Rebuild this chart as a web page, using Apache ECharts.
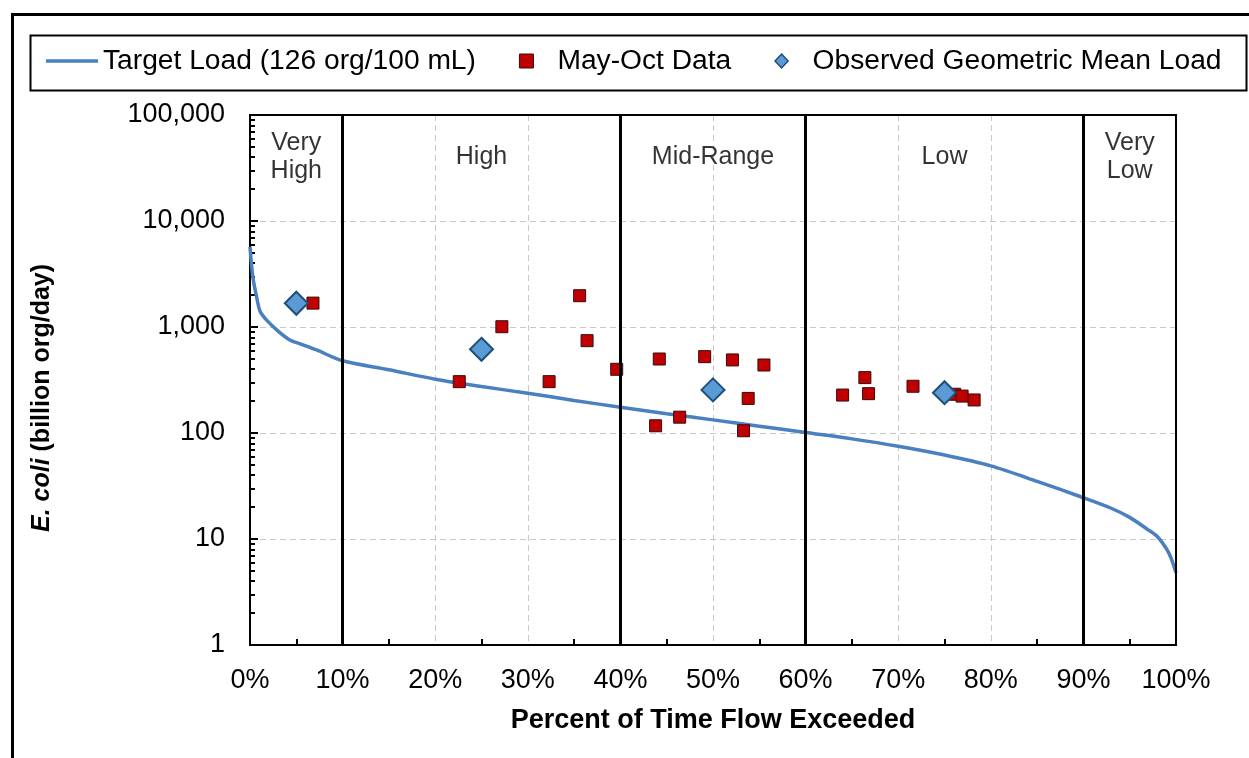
<!DOCTYPE html>
<html>
<head>
<meta charset="utf-8">
<script src="https://cdn.jsdelivr.net/npm/echarts@6/dist/echarts.min.js"></script>
<style>
html,body{margin:0;padding:0;background:#fff;}
#chart{width:1249px;height:758px;}
</style>
</head>
<body>
<div id="chart"></div>
<script>
// ---- data ----
const targetPct = [0, 0.3, 0.7, 1.1, 1.8, 3, 4.3, 5.5, 7.2, 10, 15, 20, 25, 30, 35, 40, 45, 50, 55, 60, 65, 70, 75, 80, 85, 90, 93, 95, 97, 98, 99, 99.5, 100];
const targetLoad = [5700, 3000, 1950, 1400, 1160, 920, 755, 690, 607, 480, 395, 322, 275, 237, 203, 175, 152, 133, 116, 101, 88, 75, 62, 49, 35, 24.5, 19.5, 16, 12.2, 10.5, 8, 6.5, 4.8];

const dataPct = [6.8, 22.6, 27.2, 32.3, 35.6, 36.4, 39.6, 43.8, 44.2, 46.4, 49.1, 52.1, 53.3, 53.8, 55.5, 64.0, 66.4, 66.8, 71.6, 76.1, 76.9, 78.2];
const dataLoad = [1680, 305, 1006, 305, 1973, 743, 399, 117, 499, 141, 525, 489, 105, 212, 438, 228, 333, 235, 276, 232, 223, 205];

const meanPct = [5, 25, 50, 75];
const meanLoad = [1675, 616, 255, 240];

const zoneNames = ['Very\nHigh', 'High', 'Mid-Range', 'Low', 'Very\nLow'];
const zoneCenters = [5, 25, 50, 75, 95];
const zoneBounds = [10, 40, 60, 90];

const seriesNames = ['Target Load (126 org/100 mL)', 'May-Oct Data', 'Observed Geometric Mean Load'];

// ---- chart ----
const FONT = '"Liberation Sans", Arial, sans-serif';
const X_MAX = 100, Y_MIN = 1, Y_MAX = 100000;
const chart = echarts.init(document.getElementById('chart'), null, {renderer: 'canvas'});

const zipPts = (xs, ys) => xs.map((x, i) => [x, ys[i]]);

const option = {
  animation: false,
  backgroundColor: '#fff',
  textStyle: {fontFamily: FONT, color: '#000'},
  graphic: [
    {type: 'rect', left: 10, top: 12, shape: {width: 1300, height: 800}, style: {fill: 'none', stroke: '#000', lineWidth: 3}, silent: true, z: -1},
    {type: 'rect', left: 28, top: 33, shape: {width: 1216, height: 55}, style: {fill: 'none', stroke: '#000', lineWidth: 2}, silent: true}
  ],
  legend: {
    left: 46,
    top: 47,
    itemWidth: 52,
    itemHeight: 14,
    itemGap: 43,
    padding: 0,
    symbolKeepAspect: true,
    textStyle: {fontFamily: FONT, fontSize: 28.2, color: '#000'},
    data: [
      {name: seriesNames[0], icon: 'path://M0,0H52V3.5H0Z', itemStyle: {color: '#4a7fc0'}},
      {name: seriesNames[1], icon: 'path://M0,0H10V10H0Z', itemStyle: {color: '#c00000', borderColor: '#3a0a0a', borderWidth: 1}},
      {name: seriesNames[2], icon: 'path://M7,0L14,7.5L7,15L0,7.5Z', itemStyle: {color: '#5b9bd5', borderColor: '#1f4e79', borderWidth: 1.5}}
    ]
  },
  grid: {left: 250, right: 73, top: 115, bottom: 113, show: true, borderColor: '#000', borderWidth: 2, backgroundColor: 'transparent'},
  xAxis: {
    type: 'value', min: 0, max: X_MAX, interval: 10,
    name: 'Percent of Time Flow Exceeded',
    nameLocation: 'middle', nameGap: 62,
    nameTextStyle: {fontFamily: FONT, fontSize: 27, fontWeight: 'bold', color: '#000'},
    axisLine: {show: true, lineStyle: {color: '#000', width: 2}},
    axisTick: {show: false, inside: true},
    minorTick: {show: true, splitNumber: 2, length: 6, lineStyle: {color: '#000', width: 2}},
    axisLabel: {fontFamily: FONT, fontSize: 27, color: '#000', margin: 22, formatter: v => v + '%'},
    splitLine: {show: true, lineStyle: {color: '#c8c8c8', width: 1, type: [6, 4]}}
  },
  yAxis: {
    type: 'log', logBase: 10, min: Y_MIN, max: Y_MAX,
    name: '{i|E. coli} (billion org/day)',
    nameLocation: 'middle', nameGap: 195,
    nameTextStyle: {fontFamily: FONT, fontSize: 25, fontWeight: 'bold', color: '#000', padding: [0, 36, 0, 0],
      rich: {i: {fontFamily: FONT, fontSize: 25, fontWeight: 'bold', fontStyle: 'italic', color: '#000'}}},
    axisLine: {show: true, lineStyle: {color: '#000', width: 2}},
    axisTick: {show: true, inside: true, length: 8, lineStyle: {color: '#000', width: 2}},
    minorTick: {show: true, splitNumber: 9, length: 5, lineStyle: {color: '#000', width: 2}},
    axisLabel: {fontFamily: FONT, fontSize: 27, color: '#000', margin: 25, formatter: v => Number(v).toLocaleString('en-US')},
    splitLine: {show: true, lineStyle: {color: '#c8c8c8', width: 1, type: [6, 4]}}
  },
  series: [
    {
      name: seriesNames[0], type: 'line', data: zipPts(targetPct, targetLoad),
      symbol: 'none', smooth: 0.3, lineStyle: {color: '#4a7fc0', width: 3.5}, itemStyle: {color: '#4a7fc0'}, z: 3,
      markLine: {
        silent: true, symbol: 'none', label: {show: false},
        lineStyle: {color: '#000', width: 3, type: 'solid'},
        data: zoneBounds.map(b => ({xAxis: b})).concat([
          {xAxis: X_MAX, lineStyle: {color: '#000', width: 2, type: 'solid'}},
          {yAxis: Y_MAX, lineStyle: {color: '#000', width: 2, type: 'solid'}}
        ])
      }
    },
    {
      name: seriesNames[1], type: 'scatter', data: zipPts(dataPct, dataLoad),
      symbol: 'rect', symbolSize: 12,
      itemStyle: {color: '#c00000', borderColor: '#3a0a0a', borderWidth: 1, opacity: 1}, z: 4
    },
    {
      name: seriesNames[2], type: 'scatter', data: zipPts(meanPct, meanLoad),
      symbol: 'diamond', symbolSize: 23,
      itemStyle: {color: '#5b9bd5', borderColor: '#1f4e79', borderWidth: 2, opacity: 1}, z: 5
    },
    {
      name: 'zones', type: 'scatter', silent: true, symbolSize: 0,
      data: zoneCenters.map((x, i) => ({value: [x, 40000], name: zoneNames[i]})),
      label: {show: true, position: 'inside', formatter: p => p.name, fontFamily: FONT, fontSize: 25, lineHeight: 28, color: '#000', align: 'center', verticalAlign: 'middle'},
      z: 6
    }
  ]
};
chart.setOption(option);
</script>
</body>
</html>
